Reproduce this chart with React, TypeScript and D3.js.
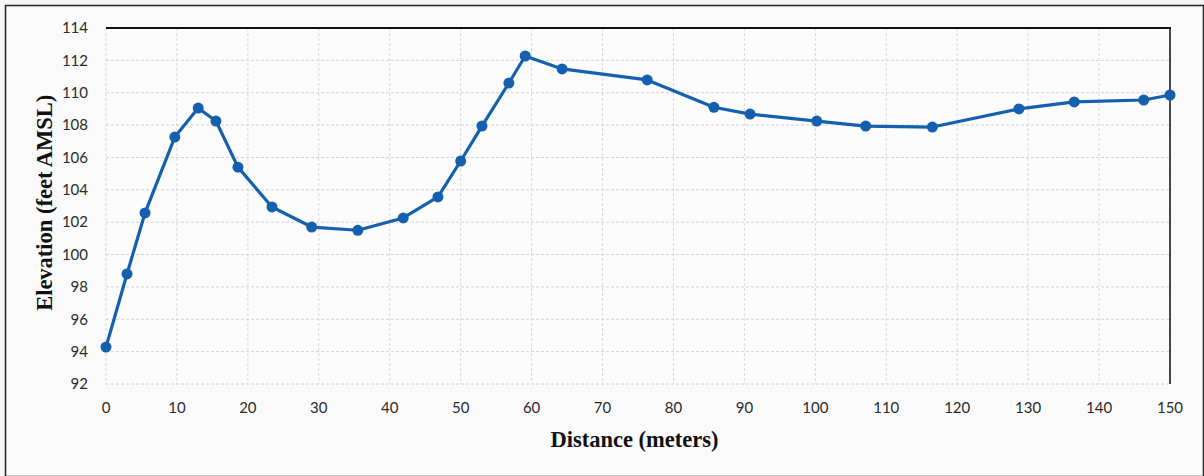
import React from "react";
import * as d3 from "d3";

const distances = [0, 2.96, 5.5, 9.7, 13.0, 15.5, 18.6, 23.4, 29.0, 35.5, 41.9, 46.8, 50.0, 53.0, 56.8, 59.1, 64.3, 76.3, 85.7, 90.8, 100.2, 107.1, 116.5, 128.7, 136.5, 146.3, 150];
const elevations = [94.28, 98.8, 102.57, 107.26, 109.05, 108.25, 105.4, 102.94, 101.7, 101.5, 102.26, 103.56, 105.78, 107.94, 110.6, 112.27, 111.47, 110.79, 109.1, 108.68, 108.25, 107.94, 107.88, 109.0, 109.43, 109.55, 109.86];
const xTicks = [0, 10, 20, 30, 40, 50, 60, 70, 80, 90, 100, 110, 120, 130, 140, 150];
const yTicks = [92, 94, 96, 98, 100, 102, 104, 106, 108, 110, 112, 114];
const xTitle = "Distance (meters)";
const yTitle = "Elevation (feet AMSL)";

export default function App() {
  const W = 1204, H = 476;
  const left = 106, right = 1170, top = 28, bottom = 384;
  const x = d3.scaleLinear().domain([0, 150]).range([left, right]);
  const y = d3.scaleLinear().domain([92, 114]).range([bottom, top]);
  const pts = distances.map((d, i) => [d, elevations[i]] as [number, number]);
  const line = d3.line<[number, number]>().x(d => x(d[0])).y(d => y(d[1]));
  const blue = "#1560ae";
  const tickFont = "Lato, 'Open Sans', sans-serif";
  const titleFont = "'Liberation Serif', 'Times New Roman', serif";
  return (
    <svg width={W} height={H} style={{ position: "absolute", left: 0, top: 0, display: "block" }}>
      <rect x={0} y={0} width={W} height={H} fill="#f6f7f6" />
      <rect x={5.5} y={5.5} width={W - 6} height={H - 5} fill="#f9faf9" stroke="#222" strokeWidth={1.5} />
      <rect x={left} y={top} width={right - left} height={bottom - top} fill="#fbfcfb" />
      {xTicks.map(t => (
        <line key={"vx" + t} x1={x(t)} x2={x(t)} y1={top} y2={bottom} stroke="#d8d8d8" strokeWidth={1} strokeDasharray="3,2" />
      ))}
      {yTicks.map(t => (
        <line key={"hy" + t} x1={left} x2={right} y1={y(t)} y2={y(t)} stroke="#d2d2d2" strokeWidth={1} strokeDasharray="3,2" />
      ))}
      <line x1={left} x2={right + 1} y1={top} y2={top} stroke="#111" strokeWidth={2} />
      <line x1={right} x2={right} y1={top} y2={bottom} stroke="#111" strokeWidth={1.5} />
      {yTicks.map(t => (
        <text key={"yl" + t} x={88} y={y(t)} dy="0.35em" textAnchor="end" fontFamily={tickFont} fontSize={15} fill="#2a2a2a">{t}</text>
      ))}
      {xTicks.map(t => (
        <text key={"xl" + t} x={x(t)} y={408} dy="0.35em" textAnchor="middle" fontFamily={tickFont} fontSize={15} fill="#2a2a2a">{t}</text>
      ))}
      <text x={x(74.5)} y={447} textAnchor="middle" fontFamily={titleFont} fontWeight="bold" fontSize={22.5} fill="#111">{xTitle}</text>
      <text transform={`translate(52, ${y(103.2)}) rotate(-90)`} textAnchor="middle" fontFamily={titleFont} fontWeight="bold" fontSize={22.5} fill="#111">{yTitle}</text>
      <path d={line(pts) || ""} fill="none" stroke={blue} strokeWidth={3.2} strokeLinejoin="round" />
      {pts.map((p, i) => (
        <circle key={"pt" + i} cx={x(p[0])} cy={y(p[1])} r={5.5} fill={blue} />
      ))}
    </svg>
  );
}
